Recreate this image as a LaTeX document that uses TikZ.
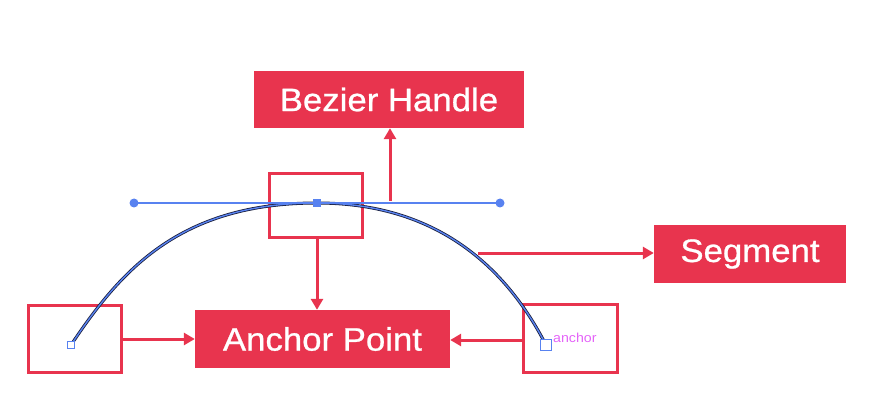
\documentclass[tikz,border=0pt]{standalone}
\usepackage{fontspec}
\setmainfont[FakeStretch=1.09]{Liberation Sans}
\newfontfamily\tagfont[FakeStretch=1.07, FakeBold=0.8]{Liberation Sans}
\usetikzlibrary{arrows.meta}
\definecolor{bzred}{RGB}{232,52,78}
\definecolor{bzblue}{RGB}{88,130,240}
\definecolor{bzdark}{RGB}{25,30,60}
\definecolor{bzpink}{RGB}{228,100,248}

\begin{document}
\begin{tikzpicture}[x=1pt, y=-1pt,
  tag/.style={rectangle, fill=bzred, text=white, inner sep=0pt, minimum height=57pt, font=\tagfont\fontsize{32.5}{38}\selectfont},
  frame/.style={rectangle, draw=bzred, line width=3pt, inner sep=0pt},
  arrow/.style={-{Triangle[length=11pt, width=12pt]}, draw=bzred, line width=3pt},
  knob/.style={circle, fill=bzblue, inner sep=0pt, minimum size=9pt},
  anchorsq/.style={rectangle, draw=bzblue, fill=white, line width=1.3pt, inner sep=0pt}
]
\useasboundingbox (0,0) rectangle (871,409);

% labels
\node[tag, minimum width=270pt] (handle) at (389,99.5) {Bezier Handle};
\node[tag, minimum width=255pt, minimum height=58pt] (anchorpt) at (322.5,339) {Anchor Point};
\node[tag, minimum width=192pt, minimum height=58pt] (segment) at (750,254) {Segment};

% frames round the points
\node[frame, minimum width=93pt, minimum height=64pt] (topframe) at (316,205.5) {};
\node[frame, minimum width=93pt, minimum height=67pt] (leftframe) at (75,339) {};
\node[frame, minimum width=94pt, minimum height=68pt] (rightframe) at (570.5,338.5) {};

% path points
\coordinate (la) at (71,345);
\coordinate (ra) at (546,345);
\coordinate (apex) at (317,203);
\coordinate (hl) at (134,203);
\coordinate (hr) at (500,203);
\coordinate (hlift) at (390,201);
\coordinate (segpt) at (478,253);

\draw[arrow] (hlift) -- (hlift |- handle.south);
\draw[arrow] (segpt) -- (segpt -| segment.west);
\draw[arrow] (topframe.south -| apex) -- (apex |- anchorpt.north);
\draw[arrow] (leftframe.east) -- (anchorpt.west);
\draw[arrow] (rightframe.west |- 0,340) -- (anchorpt.east |- 0,340);

% the curve
\draw[bzdark, line width=3pt] (la) .. controls (121,270) and (180,203) .. (apex) .. controls (444,203) and (510,275) .. (ra);
\draw[bzblue, line width=1.4pt] (la) .. controls (121,270) and (180,203) .. (apex) .. controls (444,203) and (510,275) .. (ra);
\draw[bzblue, line width=1.3pt] (hl) -- (hr);

\node[knob] (hlknob) at (hl) {};
\node[knob] (hrknob) at (hr) {};
\node[rectangle, fill=bzblue, inner sep=0pt, minimum size=8pt] (apexsq) at (apex) {};
\node[anchorsq, minimum size=7pt] (lasq) at (la) {};
\node[anchorsq, minimum size=11pt] (rasq) at (ra) {};
\node[anchor=west, text=bzpink, inner sep=0pt, font=\fontsize{13}{15}\selectfont] (anchortxt) at (553,338) {anchor};

\end{tikzpicture}
\end{document}
